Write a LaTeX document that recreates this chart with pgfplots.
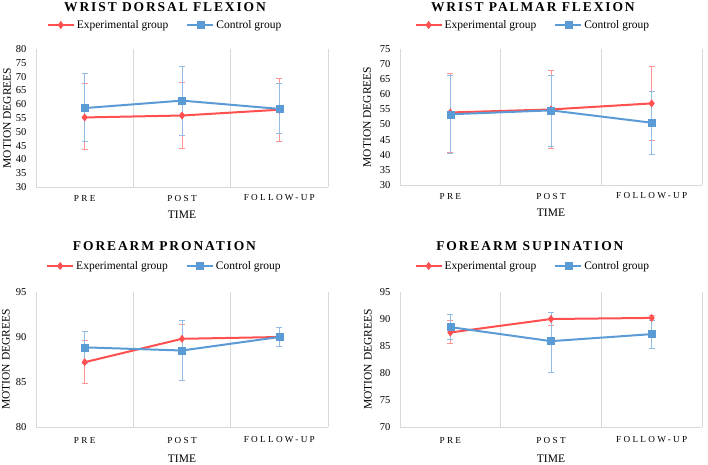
\documentclass[border=0pt]{standalone}
\usepackage{pgfplots}
\pgfplotsset{compat=1.18}
\usepackage{fontspec}
\setmainfont{Liberation Serif}
\newfontfamily\titlefont[LetterSpace=14]{Liberation Serif}
\newfontfamily\spfont[LetterSpace=25]{Liberation Serif}
\definecolor{redl}{HTML}{FF4F4F}
\definecolor{bluel}{HTML}{5B9BD5}
\definecolor{rederr}{HTML}{FF9494}
\definecolor{blueerr}{HTML}{94BBE6}
\definecolor{gridc}{HTML}{D9D9D9}

\pgfplotsset{
  panel/.style={
    scale only axis,
    xmin=-0.5, xmax=2.5,
    xtick={0,1,2},
    xticklabels={PRE,POST,FOLLOW-UP},
    major tick length=0pt,
    minor tick length=0pt,
    axis line style={draw=none},
    minor xtick={-0.5,0.5,1.5,2.5},
    xminorgrids=true,
    minor grid style={draw=gridc, line width=0.8pt},
    extra y tick style={ymajorgrids=true, major grid style={draw=gridc, line width=0.8pt}},
    extra y tick labels={},
    /pgf/number format/assume math mode=true,
    yticklabel style={font=\fontsize{10.5}{12}\selectfont, xshift=-6pt},
    xticklabel style={font=\spfont\fontsize{9.2}{11}\selectfont, anchor=center},
    ylabel={MOTION DEGREES},
    xlabel={TIME},
    label style={font=\fontsize{11.5}{13}\selectfont},
    ylabel style={anchor=center},
    xlabel style={anchor=center},
    title style={font=\titlefont\bfseries\fontsize{13.5}{15}\selectfont, anchor=center},
    legend columns=2,
    legend style={draw=none, fill=none, font=\fontsize{11.5}{13}\selectfont, anchor=center,
      /tikz/every even column/.append style={column sep=16pt}},
    legend image code/.code={\draw[mark repeat=2,mark phase=2] plot coordinates {(0pt,0pt) (13pt,0pt) (26pt,0pt)};},
  },
  errs/.style={forget plot, color=#1, only marks, mark=none,
    error bars/.cd, y dir=both, y explicit,
    error bar style={draw=#1, line width=0.8pt},
    error mark=-,
    error mark options={rotate=90, draw=#1, line width=0.8pt, mark size=3pt}},
  expl/.style={draw=redl, line width=2pt, mark=diamond*, mark size=3.6pt,
    mark options={fill=redl, draw=redl, line width=0.5pt}},
  ctrl/.style={draw=bluel, line width=2pt, mark=square*, mark size=3.5pt,
    mark options={fill=bluel, draw=bluel, line width=0.5pt}},
}

\begin{document}
\begin{tikzpicture}
\useasboundingbox (0pt,0pt) rectangle (708pt,464pt);

% Panel 1
\begin{axis}[panel, at={(36pt,277pt)}, anchor=south west, width=292pt, height=138pt,
  ymin=30, ymax=80, ytick={30,35,...,80}, extra y ticks={30},
  title={WRIST DORSAL FLEXION},
  title style={at={(axis description cs:0.442,1)}, yshift=36pt},
  legend style={at={(axis description cs:0.442,1)}, yshift=24pt},
  ylabel style={at={(axis description cs:-0.099,0.5)}},
  xlabel style={at={(axis description cs:0.5,-0.203)}},
  xticklabel style={yshift=-11pt}]
\addplot[errs=rederr] table[x=x,y=y,y error plus=ep,y error minus=em] {
x y ep em
0 55.2 12.2 11.6
1 55.9 12.1 11.8
2 58.0 11.4 11.6
};
\addplot[errs=blueerr] table[x=x,y=y,y error plus=ep,y error minus=em] {
x y ep em
0 58.6 12.4 12.2
1 61.3 12.3 12.5
2 58.3 9.2 9.0
};
\addplot[expl] table[x=x,y=y] {
x y
0 55.2
1 55.9
2 58.0
};
\addlegendentry{Experimental group}
\addplot[ctrl] table[x=x,y=y] {
x y
0 58.6
1 61.3
2 58.3
};
\addlegendentry{Control group}
\end{axis}

% Panel 2
\begin{axis}[panel, at={(400pt,279pt)}, anchor=south west, width=302pt, height=136pt,
  ymin=30, ymax=75, ytick={30,35,...,75}, extra y ticks={30},
  title={WRIST PALMAR FLEXION},
  title style={at={(axis description cs:0.44,1)}, yshift=36pt},
  legend style={at={(axis description cs:0.44,1)}, yshift=24pt},
  ylabel style={at={(axis description cs:-0.109,0.5)}},
  xlabel style={at={(axis description cs:0.5,-0.206)}},
  xticklabel style={yshift=-11pt}]
\addplot[errs=rederr] table[x=x,y=y,y error plus=ep,y error minus=em] {
x y ep em
0 54.0 12.9 13.1
1 55.0 13.0 13.0
2 57.0 12.3 12.2
};
\addplot[errs=blueerr] table[x=x,y=y,y error plus=ep,y error minus=em] {
x y ep em
0 53.4 12.8 13.1
1 54.7 11.7 12.0
2 50.6 10.5 10.4
};
\addplot[expl] table[x=x,y=y] {
x y
0 54.0
1 55.0
2 57.0
};
\addlegendentry{Experimental group}
\addplot[ctrl] table[x=x,y=y] {
x y
0 53.4
1 54.7
2 50.6
};
\addlegendentry{Control group}
\end{axis}

% Panel 3
\begin{axis}[panel, at={(36pt,37pt)}, anchor=south west, width=292pt, height=135pt,
  ymin=80, ymax=95, ytick={80,85,90,95}, extra y ticks={80},
  title={FOREARM PRONATION},
  title style={at={(axis description cs:0.44,1)}, yshift=40pt},
  legend style={at={(axis description cs:0.44,1)}, yshift=26pt},
  ylabel style={at={(axis description cs:-0.103,0.5)}},
  xlabel style={at={(axis description cs:0.5,-0.237)}},
  xticklabel style={yshift=-13pt}]
\addplot[errs=rederr] table[x=x,y=y,y error plus=ep,y error minus=em] {
x y ep em
0 87.2 2.4 2.3
1 89.8 1.6 1.6
2 90.0 0.3 0.3
};
\addplot[errs=blueerr] table[x=x,y=y,y error plus=ep,y error minus=em] {
x y ep em
0 88.85 1.75 1.75
1 88.5 3.3 3.3
2 90.0 1.05 1.05
};
\addplot[expl] table[x=x,y=y] {
x y
0 87.2
1 89.8
2 90.0
};
\addlegendentry{Experimental group}
\addplot[ctrl] table[x=x,y=y] {
x y
0 88.85
1 88.5
2 90.0
};
\addlegendentry{Control group}
\end{axis}

% Panel 4
\begin{axis}[panel, at={(400pt,37pt)}, anchor=south west, width=302pt, height=135pt,
  ymin=70, ymax=95, ytick={70,75,...,95}, extra y ticks={70},
  title={FOREARM SUPINATION},
  title style={at={(axis description cs:0.43,1)}, yshift=40pt},
  legend style={at={(axis description cs:0.44,1)}, yshift=26pt},
  ylabel style={at={(axis description cs:-0.106,0.5)}},
  xlabel style={at={(axis description cs:0.5,-0.237)}},
  xticklabel style={yshift=-13pt}]
\addplot[errs=rederr] table[x=x,y=y,y error plus=ep,y error minus=em] {
x y ep em
0 87.5 2.3 2.0
1 90.0 1.3 1.2
2 90.2 0.4 0.4
};
\addplot[errs=blueerr] table[x=x,y=y,y error plus=ep,y error minus=em] {
x y ep em
0 88.5 2.3 2.3
1 85.9 5.4 5.7
2 87.2 2.6 2.6
};
\addplot[expl] table[x=x,y=y] {
x y
0 87.5
1 90.0
2 90.2
};
\addlegendentry{Experimental group}
\addplot[ctrl] table[x=x,y=y] {
x y
0 88.5
1 85.9
2 87.2
};
\addlegendentry{Control group}
\end{axis}
\end{tikzpicture}
\end{document}
